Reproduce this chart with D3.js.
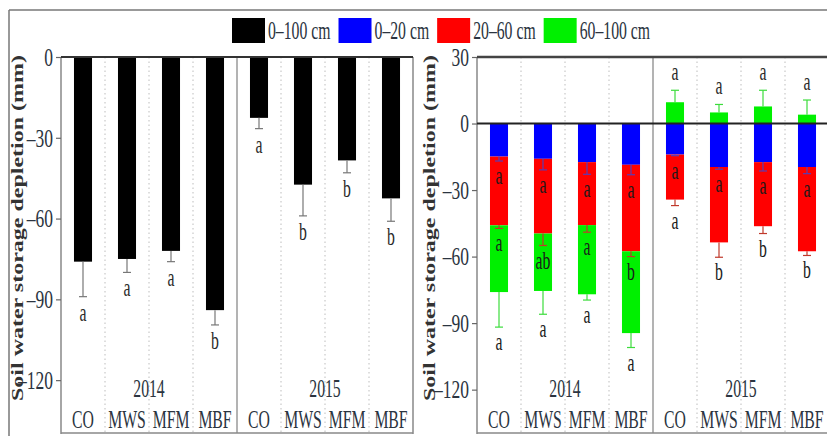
<!DOCTYPE html>
<html><head><meta charset="utf-8">
<script src="https://cdn.jsdelivr.net/npm/d3@7"></script>
<style>body{margin:0;background:#fff}svg{display:block}text{font-family:"Liberation Serif","Times New Roman",Times,serif}</style>
</head><body><svg id="c" width="827" height="436"></svg>
<script>
const categories = ["CO","MWS","MFM","MBF"];
const years = ["2014","2015"];
const legendLabels = ["0–100 cm","0–20 cm","20–60 cm","60–100 cm"];
const leftTicks = [0,-30,-60,-90,-120];
const rightTicks = [30,0,-30,-60,-90,-120];
const yLabel = "Soil water storage depletion (mm)";

// order: 2014 CO, MWS, MFM, MBF, 2015 CO, MWS, MFM, MBF
const total0_100 = [-76,-75,-72,-94,-22.6,-47.4,-38.4,-52.5];
const totalErr = [13,5,4,5.5,4,11.6,4.6,8.5];
const totalLetters = ["a","a","a","b","a","b","b","b"];

const layer0_20 = [-14.9,-15.9,-17.4,-18.6,-14.0,-19.6,-17.4,-19.6];
const layer20_60 = [-31.0,-33.7,-28.4,-39.0,-20.3,-34.0,-28.9,-38.0];
const layer60_100 = [-30.1,-25.9,-31.2,-36.9,9.6,5.0,7.7,4.0];
const err0_20 = [2,5,5.5,4.5,0.5,1,4,3];
const err20_60 = [1.4,5.4,3.2,2.4,2.7,6.7,3.3,1.9];
const err60_100 = [15.8,10.5,2.6,6.5,5.4,3.6,7.3,6.6];
const letters0_20 = ["a","a","a","a","a","a","a","a"];
const letters20_60 = ["a","ab","a","b","a","b","b","b"];
const letters60_100 = ["a","a","a","a","a","a","a","a"];

const colors = {total:"#000000", d0_20:"#0000ff", d20_60:"#ff0000", d60_100:"#00f000"};
const errColors = {total:"#777777", d0_20:"#5a3cb4", d20_60:"#c0392b", d60_100:"#3cdc3c"};
const legendColors = [colors.total, colors.d0_20, colors.d20_60, colors.d60_100];

const FS = 25, SX = 0.63;
const svg = d3.select("#c");
svg.append("rect").attr("width",827).attr("height",436).attr("fill","#fff");

const keys = years.flatMap(y => categories.map(c => y + "-" + c));

function stext(g, x, y, s, anchor, opt = {}) {
  return g.append("text")
    .attr("transform", `translate(${x},${y}) scale(${opt.sx || SX},1)`)
    .attr("text-anchor", anchor || "middle")
    .style("font-size", (opt.fs || FS) + "px")
    .style("font-weight", opt.fw || "normal")
    .attr("fill", opt.fill || "#222")
    .text(s);
}

// outer frame
svg.append("line").attr("x1",9).attr("x2",827).attr("y1",10).attr("y2",10).attr("stroke","#777").attr("stroke-width",1.5);
svg.append("line").attr("x1",9).attr("x2",9).attr("y1",10).attr("y2",436).attr("stroke","#777").attr("stroke-width",1.5);

function panel(x0, x1, domain, ticks, labelX) {
  const yTop = 57, yBot = 434;
  const x = d3.scaleBand().domain(keys).range([x0, x1]).paddingInner(0.59).paddingOuter(0.295);
  const y = d3.scaleLinear().domain(domain).range([yBot, yTop]);
  const g = svg.append("g");
  keys.forEach((k, i) => {
    if (i === 0) return;
    const gx = x0 + i * x.step();
    g.append("line").attr("x1",gx).attr("x2",gx).attr("y1",yTop).attr("y2",yBot-1)
      .attr("stroke", i === 4 ? "#8a8a8a" : "#bdbdbd")
      .attr("stroke-width", i === 4 ? 1.3 : 1)
      .attr("stroke-dasharray", i === 4 ? null : "1.5,3");
  });
  g.append("line").attr("x1",x0).attr("x2",x0).attr("y1",yTop).attr("y2",yBot).attr("stroke","#888").attr("stroke-width",1.5);
  g.append("line").attr("x1",x1).attr("x2",x1).attr("y1",yTop).attr("y2",yBot).attr("stroke","#888").attr("stroke-width",1.5);
  g.append("line").attr("x1",x0).attr("x2",x1).attr("y1",yBot-1).attr("y2",yBot-1).attr("stroke","#888").attr("stroke-width",1.5);
  const ax = d3.axisLeft(y).tickValues(ticks).tickSize(5).tickPadding(3)
    .tickFormat(d => d < 0 ? "–" + (-d) : String(d));
  const ag = svg.append("g").attr("transform", `translate(${x0},0)`).call(ax);
  ag.attr("font-family", null).attr("font-size", null);
  ag.select(".domain").remove();
  ag.selectAll(".tick line").attr("stroke","#666").attr("stroke-width",1.2);
  ag.selectAll(".tick text").style("font-size", FS + "px").attr("fill","#2b3440")
    .attr("transform","scale(0.7,1)").attr("x",-8/0.7).attr("dy","0.33em");
  svg.append("text")
    .attr("transform", `translate(${labelX},228) scale(0.72,1) rotate(-90)`)
    .attr("text-anchor","middle").style("font-size","24px")
    .style("font-weight","bold").attr("fill","#333").text(yLabel);
  years.forEach((yr, i) => {
    stext(svg, x0 + (i * 4 + 2) * x.step(), 397, yr, "middle", {fill:"#2b3440"});
  });
  keys.forEach((k, i) => {
    stext(svg, x(k) + x.bandwidth()/2, 428, categories[i % 4], "middle", {fill:"#2b3440"});
  });
  return {x, y, g, yTop, yBot};
}

function errBar(g, cx, yStart, yEnd, color) {
  g.append("line").attr("x1",cx).attr("x2",cx).attr("y1",yStart).attr("y2",yEnd).attr("stroke",color).attr("stroke-width",1.2);
  g.append("line").attr("x1",cx-4).attr("x2",cx+4).attr("y1",yEnd).attr("y2",yEnd).attr("stroke",color).attr("stroke-width",1.2);
}

// LEFT PANEL
const L = panel(61, 413, [-140, 0], leftTicks, 23);
keys.forEach((k, i) => {
  const v = total0_100[i];
  const bx = L.x(k), bw = L.x.bandwidth(), cx = bx + bw/2;
  L.g.append("rect").attr("x",bx).attr("width",bw).attr("y",L.y(0)).attr("height",L.y(v)-L.y(0)).attr("fill",colors.total);
  const ye = L.y(v - totalErr[i]);
  errBar(L.g, cx, L.y(v), ye, errColors.total);
  stext(L.g, cx, ye + 24, totalLetters[i], "middle", {fill:"#2a2a2a"});
});
L.g.append("line").attr("x1",61).attr("x2",413).attr("y1",L.y(0)).attr("y2",L.y(0)).attr("stroke","#333").attr("stroke-width",2);

// RIGHT PANEL
const R = panel(477, 829, [-140, 30], rightTicks, 435);
const rows = keys.map((k, i) => ({key:k, d0_20:layer0_20[i], d20_60:layer20_60[i], d60_100:layer60_100[i]}));
const layerKeys = ["d0_20","d20_60","d60_100"];
const errs = {d0_20:err0_20, d20_60:err20_60, d60_100:err60_100};
const lets = {d0_20:letters0_20, d20_60:letters20_60, d60_100:letters60_100};
const stacked = d3.stack().keys(layerKeys).offset(d3.stackOffsetDiverging)(rows);
stacked.forEach(s => {
  s.forEach(d => {
    const k = d.data.key;
    R.g.append("rect").attr("x",R.x(k)).attr("width",R.x.bandwidth())
      .attr("y",R.y(d[1])).attr("height",R.y(d[0]) - R.y(d[1])).attr("fill",colors[s.key]);
  });
});
stacked.forEach(s => {
  s.forEach((d, i) => {
    const k = d.data.key;
    const cx = R.x(k) + R.x.bandwidth()/2;
    const v = d.data[s.key];
    const e = errs[s.key][i];
    if (v < 0) {
      const ye = R.y(d[0] - e);
      errBar(R.g, cx, R.y(d[0]), ye, errColors[s.key]);
      stext(R.g, cx, ye + 23, lets[s.key][i], "middle", {fill:"#1a1a1a"});
    } else {
      const ye = R.y(d[1] + e);
      errBar(R.g, cx, R.y(d[1]), ye, errColors[s.key]);
      stext(R.g, cx, ye - 10, lets[s.key][i], "middle", {fill:"#2a2a2a"});
    }
  });
});
R.g.append("line").attr("x1",477).attr("x2",829).attr("y1",R.y(0)).attr("y2",R.y(0)).attr("stroke","#222").attr("stroke-width",2);
R.g.append("line").attr("x1",477).attr("x2",829).attr("y1",R.y(30)).attr("y2",R.y(30)).attr("stroke","#444").attr("stroke-width",2.5);

// LEGEND
const lg = svg.append("g");
let lx = 232;
legendLabels.forEach((lab, i) => {
  lg.append("rect").attr("x",lx).attr("y",18).attr("width",33).attr("height",25).attr("fill",legendColors[i]);
  const t = stext(lg, lx + 36, 39, lab, "start", {fill:"#2b3440"});
  const w = t.node().getComputedTextLength() * SX;
  lx = lx + 36 + w + 8;
});
</script></body></html>
